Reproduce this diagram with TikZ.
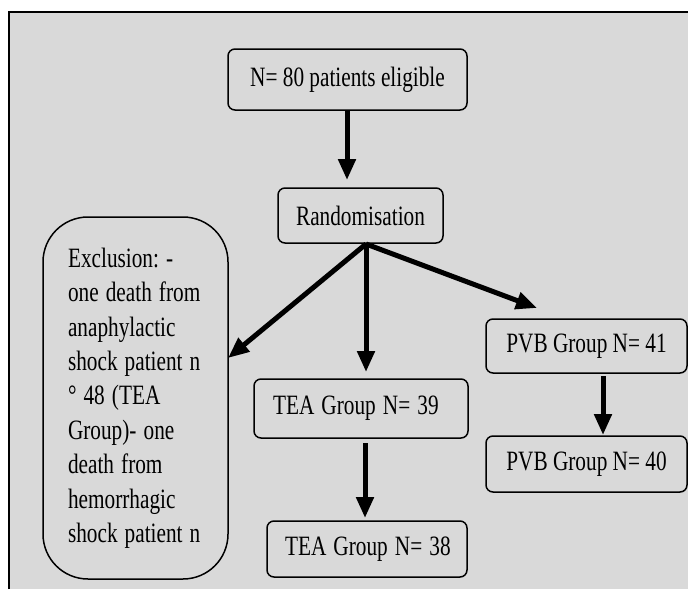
\documentclass[tikz,border=0pt]{standalone}
\usepackage{fontspec}
\usepackage{graphicx}
\setmainfont{Liberation Serif}
\usetikzlibrary{arrows.meta}
\definecolor{bg}{RGB}{217,217,217}
\newcommand\sqz[1]{\scalebox{0.76}[1]{#1}}
\frenchspacing
\begin{document}
\begin{tikzpicture}[x=1pt,y=-1pt,
  box/.style={draw=black, line width=1.5pt, fill=bg, rounded corners=7pt, inner sep=0pt,
    font=\fontsize{28}{34.4}\selectfont\frenchspacing},
  arr/.style={line width=5pt, -{Triangle[length=21pt,width=17pt]}}]
\useasboundingbox (0,0) rectangle (688,589);
\fill[white] (0,0) rectangle (688,589);
\fill[bg] (9,12) rectangle (688,589);
\draw[line width=1.5pt] (9,589) -- (9,12) -- (688,12);

\node[box, minimum width=239pt, minimum height=61pt] (top) at (347.5,79.5) {\sqz{N= 80 patients eligible}};
\node[box, minimum width=165pt, minimum height=55pt] (rand) at (360.5,215.5) {\sqz{Randomisation}};
\node[box, rounded corners=45pt, minimum width=185pt, minimum height=362pt,
  text width=135pt, inner xsep=25pt, align=left] (excl) at (135.5,398)
  {\sqz{\begin{tabular}{@{}l@{}}Exclusion: -\\one death from\\anaphylactic\\shock patient n\\° 48 (TEA\\Group)- one\\death from\\hemorrhagic\\shock patient n\end{tabular}}};
\node[box, minimum height=59pt, text width=176pt, inner xsep=19pt, align=left] (tea39) at (361,408.5) {\sqz{TEA Group N= 39}};
\node[box, minimum height=56pt, text width=164pt, inner xsep=18pt, align=left] (tea38) at (367,549) {\sqz{TEA Group N= 38}};
\node[box, minimum width=201pt, minimum height=54pt] (pvb41) at (586.5,346) {\sqz{PVB Group N= 41}};
\node[box, minimum width=201pt, minimum height=56pt] (pvb40) at (586.5,464) {\sqz{PVB Group N= 40}};

\coordinate (t1) at (347,180);
\coordinate (r0) at (366,244);
\coordinate (tE) at (228,358);
\coordinate (tT) at (366,372);
\coordinate (tP) at (537,308);
\coordinate (s39) at (365,443);
\coordinate (t38) at (365,518);
\coordinate (s41) at (603,376);
\coordinate (t40) at (603,435);

\draw[arr] (top.south -| t1) -- (t1);
\draw[arr] (r0) -- (tE);
\draw[arr] (r0) -- (tT);
\draw[arr] (r0) -- (tP);
\draw[arr] (s39) -- (t38);
\draw[arr] (s41) -- (t40);
\end{tikzpicture}
\end{document}
